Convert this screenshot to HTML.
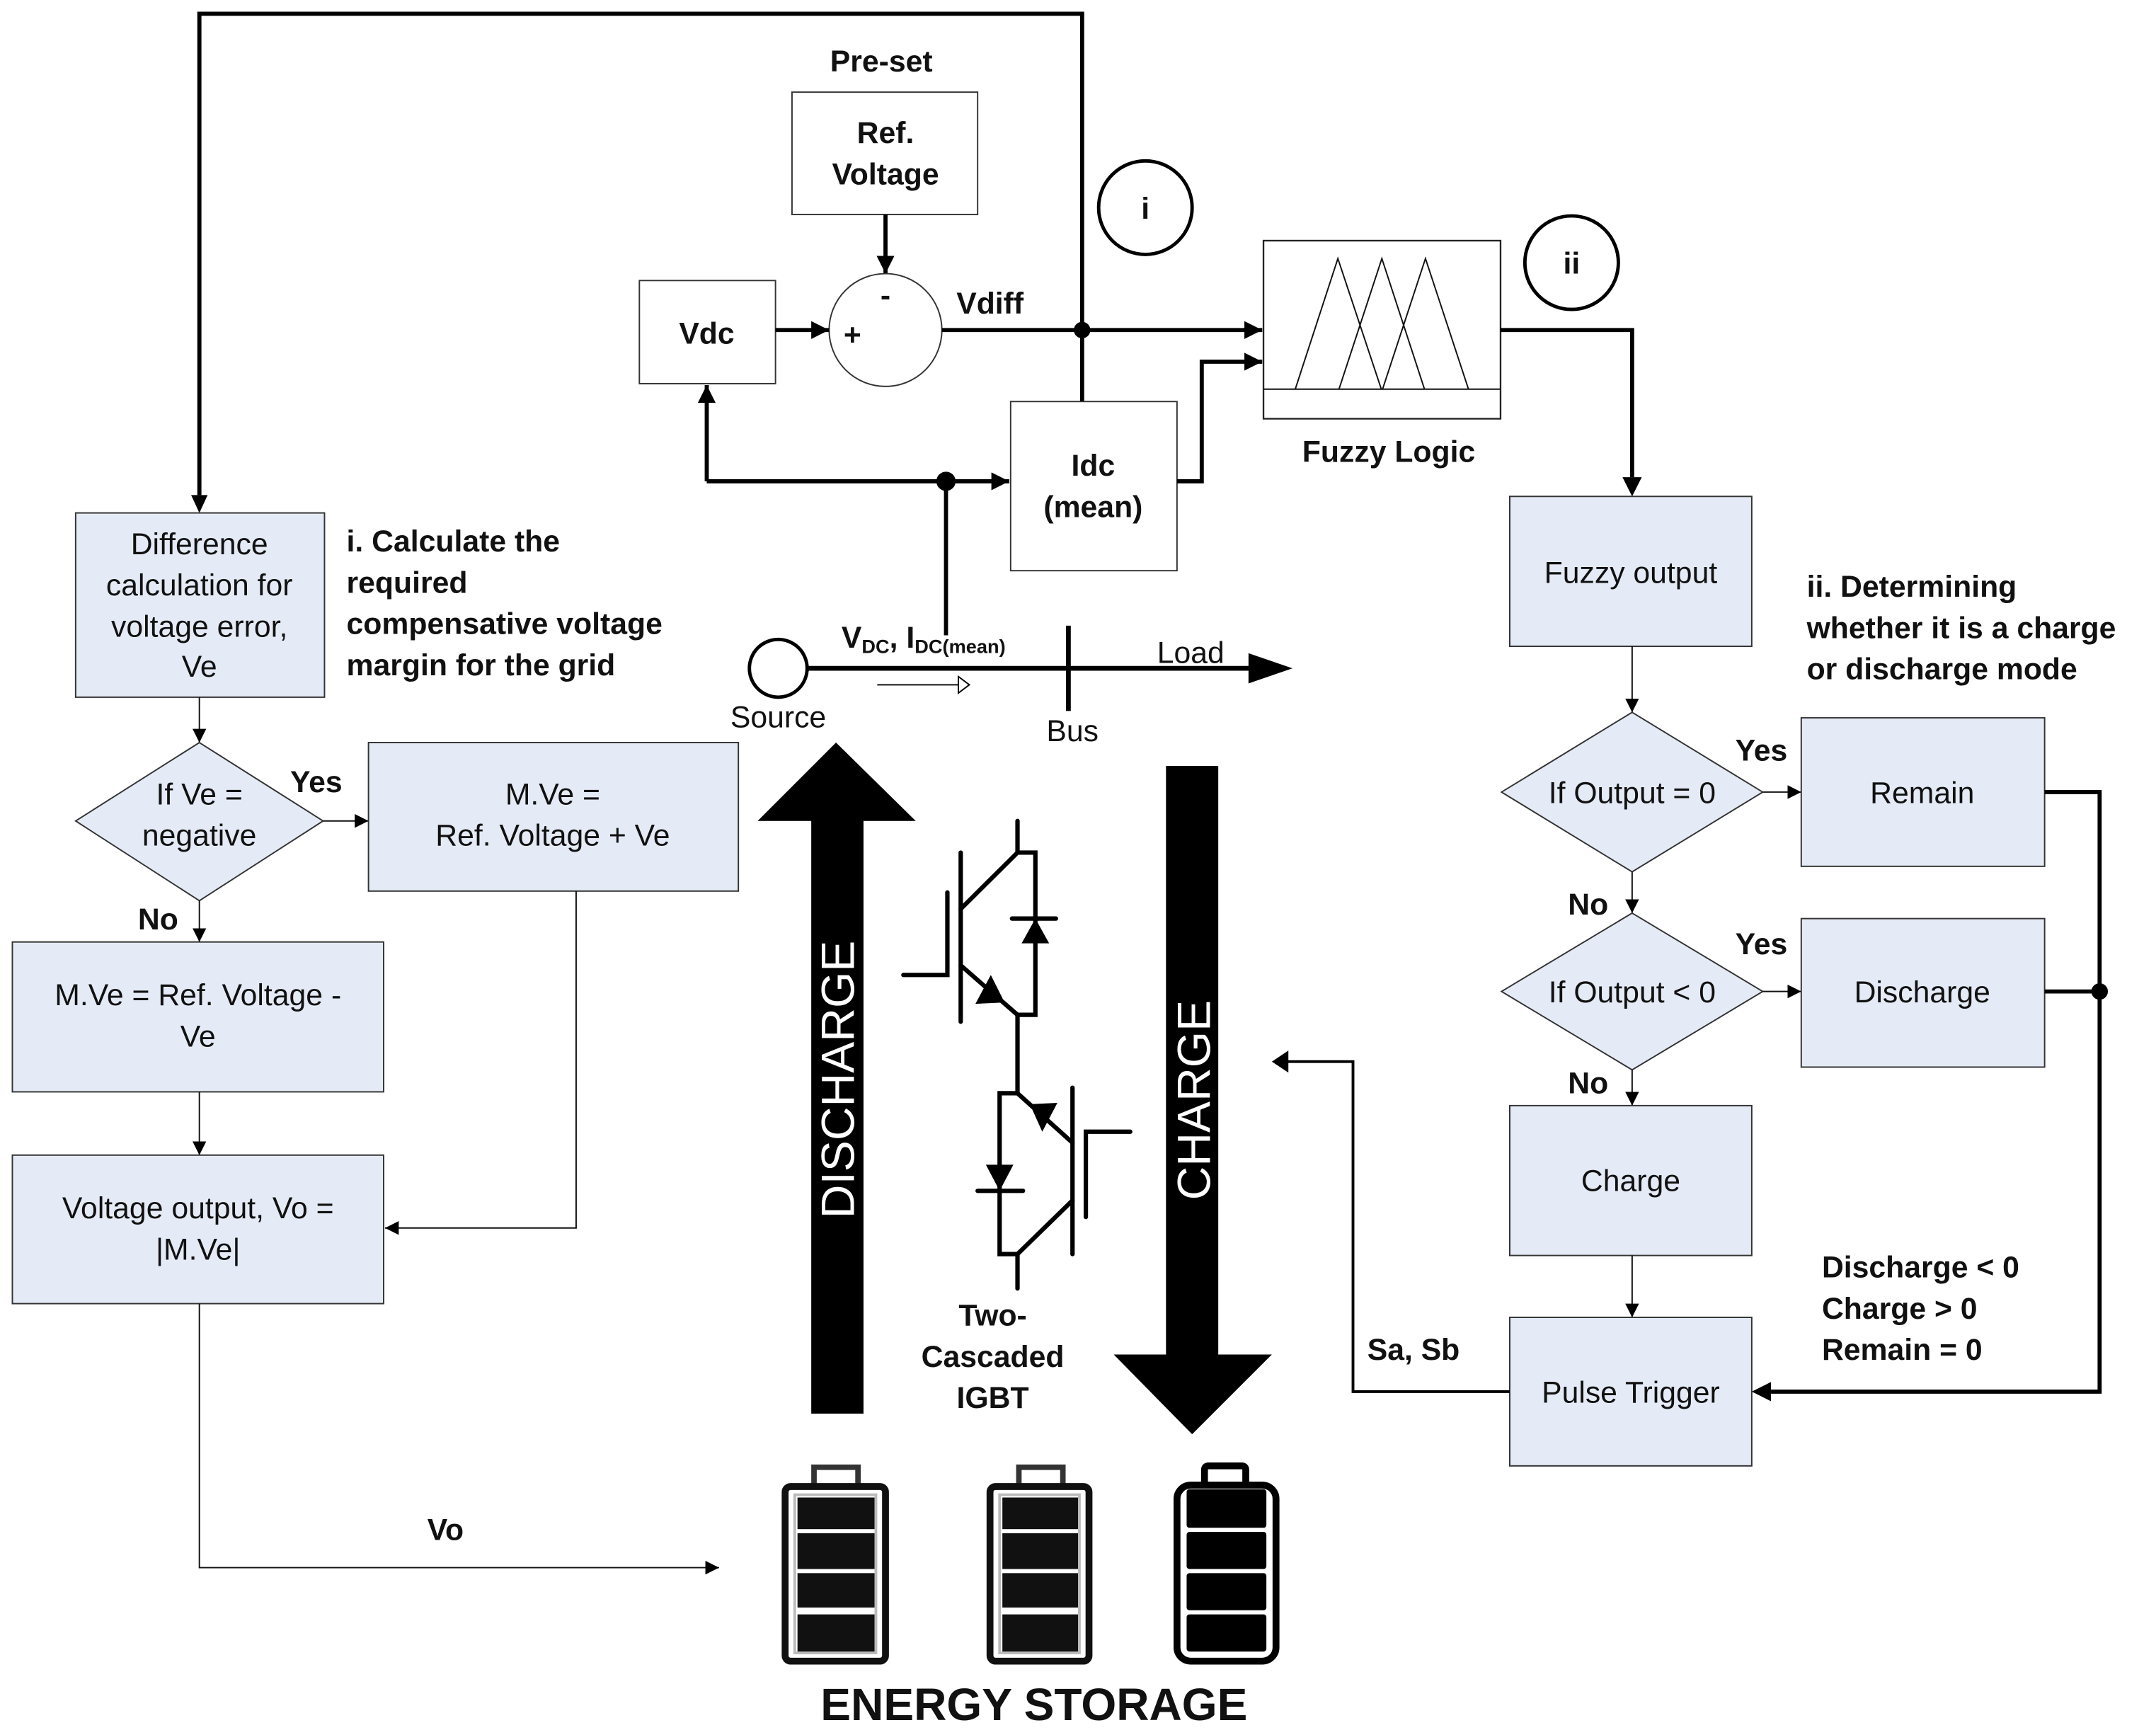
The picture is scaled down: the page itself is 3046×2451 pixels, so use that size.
<!DOCTYPE html>
<html><head><meta charset="utf-8"><style>
html,body{margin:0;padding:0;background:#fff}
svg{display:block}
text{font-family:"Liberation Sans Narrow","Liberation Sans",sans-serif;fill:#111}
.b{font-weight:bold}
.bx{fill:#e5ebf6;stroke:#333;stroke-width:1}
.ln{stroke:#111;stroke-width:1;fill:none}
.tk{stroke:#000;stroke-width:3;fill:none}
.ig{stroke:#000;stroke-width:3.2;fill:none;stroke-linecap:round}
</style></head><body>
<svg width="3046" height="2451" viewBox="0 0 1568 1261.7" xmlns="http://www.w3.org/2000/svg">
<defs>
<marker id="a" viewBox="0 0 10 10" refX="10" refY="5" markerWidth="10" markerHeight="10" markerUnits="userSpaceOnUse" orient="auto"><path d="M0,0L10,5L0,10z" fill="#000"/></marker>
<marker id="A" viewBox="0 0 10 10" refX="10" refY="5" markerWidth="13" markerHeight="13" markerUnits="userSpaceOnUse" orient="auto"><path d="M0,0L10,5L0,10z" fill="#000"/></marker>
</defs>

<polyline class="tk" points="787,240 787,10 145,10 145,360" />
<path d="M139,360L151,360L145,373z" fill="#000"/>

<text x="641" y="52" font-size="22" text-anchor="middle" class="b">Pre-set</text>
<rect x="576" y="67" width="135" height="89" fill="#fff" stroke="#333" stroke-width="1"/>
<text x="644" y="104" font-size="22" text-anchor="middle" class="b">Ref.</text>
<text x="644" y="134" font-size="22" text-anchor="middle" class="b">Voltage</text>
<line x1="644" y1="156" x2="644" y2="199" class="tk" marker-end="url(#A)"/>
<circle cx="644" cy="240" r="41" fill="#fff" stroke="#333" stroke-width="1"/>
<text x="644" y="222" font-size="22" text-anchor="middle" class="b">-</text>
<text x="620" y="251" font-size="22" text-anchor="middle" class="b">+</text>

<rect x="465" y="204" width="99" height="75" fill="#fff" stroke="#333" stroke-width="1"/>
<text x="514" y="250" font-size="22" text-anchor="middle" class="b">Vdc</text>
<line x1="564" y1="240" x2="603" y2="240" class="tk" marker-end="url(#A)"/>
<text x="720" y="228" font-size="22" text-anchor="middle" class="b">Vdiff</text>
<line x1="685" y1="240" x2="918" y2="240" class="tk" marker-end="url(#A)"/>
<circle cx="787" cy="240" r="6" fill="#000"/>
<line x1="787" y1="240" x2="787" y2="292" class="tk"/>

<rect x="735" y="292" width="121" height="123" fill="#fff" stroke="#333" stroke-width="1"/>
<text x="795" y="346" font-size="22" text-anchor="middle" class="b">Idc</text>
<text x="795" y="376" font-size="22" text-anchor="middle" class="b">(mean)</text>

<line x1="514" y1="350" x2="514" y2="280" class="tk" marker-end="url(#A)"/>
<line x1="514" y1="350" x2="734" y2="350" class="tk" marker-end="url(#A)"/>
<circle cx="688" cy="350" r="7" fill="#000"/>
<line x1="688" y1="350" x2="688" y2="462" class="tk"/>
<polyline class="tk" points="856,350 874,350 874,263 918,263" marker-end="url(#A)"/>

<rect x="918.9" y="175" width="172.4" height="129.5" fill="#fff" stroke="#222" stroke-width="1.2"/>
<line x1="918.9" y1="283" x2="1091.3" y2="283" class="ln" stroke-width="1.3"/>
<polyline class="ln" points="942,283 973,188 1004.6,283"/>
<polyline class="ln" points="973.8,283 1005,188 1036,283"/>
<polyline class="ln" points="1005.5,283 1036.7,188 1068,283"/>
<text x="1010" y="336" font-size="22" text-anchor="middle" class="b">Fuzzy Logic</text>
<circle cx="833" cy="151" r="34" fill="#fff" stroke="#000" stroke-width="2.5"/>
<text x="833" y="159" font-size="22" text-anchor="middle" class="b">i</text>
<circle cx="1143" cy="191" r="34" fill="#fff" stroke="#000" stroke-width="2.5"/>
<text x="1143" y="199" font-size="22" text-anchor="middle" class="b">ii</text>
<polyline class="tk" points="1091,240 1187,240 1187,347"/>
<path d="M1180,347L1194,347L1187,361z" fill="#000"/>

<rect x="1098" y="361" width="176" height="109" class="bx"/>
<text x="1186" y="424" font-size="22" text-anchor="middle">Fuzzy output</text>
<line x1="1187" y1="470" x2="1187" y2="518" class="ln" marker-end="url(#a)"/>
<polygon points="1187,518 1282,576 1187,634 1092,576" class="bx"/>
<text x="1187" y="584" font-size="22" text-anchor="middle">If Output = 0</text>
<text x="1281" y="553" font-size="22" text-anchor="middle" class="b">Yes</text>
<line x1="1282" y1="576" x2="1310" y2="576" class="ln" marker-end="url(#a)"/>
<rect x="1310" y="522" width="177" height="108" class="bx"/>
<text x="1398" y="584" font-size="22" text-anchor="middle">Remain</text>
<text x="1155" y="665" font-size="22" text-anchor="middle" class="b">No</text>
<line x1="1187" y1="634" x2="1187" y2="664" class="ln" marker-end="url(#a)"/>
<polygon points="1187,664 1282,721 1187,778 1092,721" class="bx"/>
<text x="1187" y="729" font-size="22" text-anchor="middle">If Output &lt; 0</text>
<text x="1281" y="694" font-size="22" text-anchor="middle" class="b">Yes</text>
<line x1="1282" y1="721" x2="1310" y2="721" class="ln" marker-end="url(#a)"/>
<rect x="1310" y="668" width="177" height="108" class="bx"/>
<text x="1398" y="729" font-size="22" text-anchor="middle">Discharge</text>
<text x="1155" y="795" font-size="22" text-anchor="middle" class="b">No</text>
<line x1="1187" y1="778" x2="1187" y2="804" class="ln" marker-end="url(#a)"/>
<rect x="1098" y="804" width="176" height="109" class="bx"/>
<text x="1186" y="866" font-size="22" text-anchor="middle">Charge</text>
<line x1="1187" y1="913" x2="1187" y2="958" class="ln" marker-end="url(#a)"/>
<rect x="1098" y="958" width="176" height="108" class="bx"/>
<text x="1186" y="1020" font-size="22" text-anchor="middle">Pulse Trigger</text>
<polyline class="tk" points="1487,576 1527,576 1527,1012 1288,1012"/>
<path d="M1288,1005L1288,1019L1274,1012z" fill="#000"/>
<line x1="1487" y1="721" x2="1527" y2="721" class="tk"/>
<circle cx="1527" cy="721" r="6" fill="#000"/>
<text x="1325" y="929" font-size="22" class="b">Discharge &lt; 0</text>
<text x="1325" y="959" font-size="22" class="b">Charge &gt; 0</text>
<text x="1325" y="989" font-size="22" class="b">Remain = 0</text>
<text x="1314" y="434" font-size="22" class="b">ii. Determining</text>
<text x="1314" y="464" font-size="22" class="b">whether it is a charge</text>
<text x="1314" y="494" font-size="22" class="b">or discharge mode</text>
<text x="1028" y="989" font-size="22" text-anchor="middle" class="b">Sa, Sb</text>
<polyline points="1098,1012 984,1012 984,772 936,772" fill="none" stroke="#000" stroke-width="2"/>
<path d="M937,764L937,780L925,772z" fill="#000"/>

<rect x="55" y="373" width="181" height="134" class="bx"/>
<text x="145" y="403" font-size="22" text-anchor="middle">Difference</text>
<text x="145" y="433" font-size="22" text-anchor="middle">calculation for</text>
<text x="145" y="463" font-size="22" text-anchor="middle">voltage error,</text>
<text x="145" y="492" font-size="22" text-anchor="middle">Ve</text>
<text x="252" y="401" font-size="22" class="b">i. Calculate the</text>
<text x="252" y="431" font-size="22" class="b">required</text>
<text x="252" y="461" font-size="22" class="b">compensative voltage</text>
<text x="252" y="491" font-size="22" class="b">margin for the grid</text>
<line x1="145" y1="507" x2="145" y2="540" class="ln" marker-end="url(#a)"/>
<polygon points="145,540 235,597 145,655 55,597" class="bx"/>
<text x="145" y="585" font-size="22" text-anchor="middle">If Ve =</text>
<text x="145" y="615" font-size="22" text-anchor="middle">negative</text>
<text x="230" y="576" font-size="22" text-anchor="middle" class="b">Yes</text>
<line x1="235" y1="597" x2="268" y2="597" class="ln" marker-end="url(#a)"/>
<rect x="268" y="540" width="269" height="108" class="bx"/>
<text x="402" y="585" font-size="22" text-anchor="middle">M.Ve =</text>
<text x="402" y="615" font-size="22" text-anchor="middle">Ref. Voltage + Ve</text>
<text x="115" y="676" font-size="22" text-anchor="middle" class="b">No</text>
<line x1="145" y1="655" x2="145" y2="685" class="ln" marker-end="url(#a)"/>
<rect x="9" y="685" width="270" height="109" class="bx"/>
<text x="144" y="731" font-size="22" text-anchor="middle">M.Ve =  Ref. Voltage -</text>
<text x="144" y="761" font-size="22" text-anchor="middle">Ve</text>
<line x1="145" y1="794" x2="145" y2="840" class="ln" marker-end="url(#a)"/>
<rect x="9" y="840" width="270" height="108" class="bx"/>
<text x="144" y="886" font-size="22" text-anchor="middle">Voltage output, Vo =</text>
<text x="144" y="916" font-size="22" text-anchor="middle">|M.Ve|</text>
<polyline class="ln" points="419,648 419,893 280,893" marker-end="url(#a)"/>
<polyline class="ln" points="145,948 145,1140 523,1140" marker-end="url(#a)"/>
<text x="324" y="1120" font-size="22" text-anchor="middle" class="b">Vo</text>

<circle cx="566" cy="486" r="21" fill="#fff" stroke="#000" stroke-width="2.5"/>
<text x="566" y="529" font-size="22" text-anchor="middle">Source</text>
<line x1="587" y1="486" x2="912" y2="486" stroke="#000" stroke-width="3.5"/>
<path d="M908,475L940,486L908,497z" fill="#000"/>
<line x1="777" y1="455" x2="777" y2="517" stroke="#000" stroke-width="3.5"/>
<text x="780" y="539" font-size="22" text-anchor="middle">Bus</text>
<text x="866" y="482" font-size="22" text-anchor="middle">Load</text>
<text x="612" y="471" font-size="22" class="b">V<tspan font-size="14" dy="4">DC</tspan><tspan dy="-4">, I</tspan><tspan font-size="14" dy="4">DC(mean)</tspan></text>
<line x1="638" y1="498" x2="697" y2="498" stroke="#000" stroke-width="1"/>
<path d="M697,492L705,498L697,504z" fill="#fff" stroke="#000" stroke-width="1"/>

<path d="M590,1028L628,1028L628,597L666,597L608,540L551,597L590,597z" fill="#000"/>
<text transform="translate(621,785) rotate(-90)" font-size="34" text-anchor="middle" style="fill:#fff">DISCHARGE</text>
<path d="M848,557L886,557L886,985L925,985L867,1043L810,985L848,985z" fill="#000"/>
<text transform="translate(880,800) rotate(-90)" font-size="34" text-anchor="middle" style="fill:#fff">CHARGE</text>

<!-- IGBT -->
<g class="ig">
<polyline points="740,597 740,620 753,620 753,738 740,738"/>
<line x1="736" y1="668" x2="768" y2="668"/>
<line x1="698.7" y1="620" x2="698.7" y2="743"/>
<polyline points="657,709 689,709 689,649"/>
<line x1="698.7" y1="661" x2="740" y2="620"/>
<line x1="698.7" y1="702" x2="740" y2="738"/>
<line x1="740" y1="738" x2="740" y2="795"/>
<polyline points="740,795 727,795 727,912 740,912 740,937"/>
<line x1="711" y1="866" x2="744" y2="866"/>
<line x1="780" y1="791" x2="780" y2="912"/>
<polyline points="822,823 789.7,823 789.7,885"/>
<line x1="740" y1="795" x2="780" y2="831"/>
<line x1="780" y1="873" x2="740" y2="912"/>
</g>
<path d="M753,668L743,686L763,686z" fill="#000"/>
<path d="M727,866L717,847L737,847z" fill="#000"/>
<path d="M720.6,709L709.4,730L730.6,729z" fill="#000"/>
<path d="M769,802L749,803L758,823z" fill="#000"/>
<text x="722" y="964" font-size="22" text-anchor="middle" class="b">Two-</text>
<text x="722" y="994" font-size="22" text-anchor="middle" class="b">Cascaded</text>
<text x="722" y="1024" font-size="22" text-anchor="middle" class="b">IGBT</text>

<!-- batteries -->
<g>
<path d="M592,1083L592,1067L624,1067L624,1083" fill="#fff" stroke="#333" stroke-width="4"/>
<rect x="571" y="1081" width="73" height="127" rx="4" fill="#fff" stroke="#111" stroke-width="5"/>
<rect x="578" y="1087" width="59" height="115" fill="none" stroke="#bbb" stroke-width="2"/>
<rect x="580" y="1089" width="56" height="23" fill="#111"/>
<rect x="580" y="1115" width="56" height="26" fill="#111"/>
<rect x="580" y="1144" width="56" height="25" fill="#111"/>
<rect x="580" y="1174" width="56" height="27" fill="#111"/>
</g>
<g>
<path d="M741,1083L741,1067L773,1067L773,1083" fill="#fff" stroke="#333" stroke-width="4"/>
<rect x="720" y="1081" width="72" height="127" rx="4" fill="#fff" stroke="#111" stroke-width="5"/>
<rect x="727" y="1087" width="58" height="115" fill="none" stroke="#bbb" stroke-width="2"/>
<rect x="729" y="1089" width="55" height="23" fill="#111"/>
<rect x="729" y="1115" width="55" height="26" fill="#111"/>
<rect x="729" y="1144" width="55" height="25" fill="#111"/>
<rect x="729" y="1174" width="55" height="27" fill="#111"/>
</g>
<g>
<path d="M876,1082L876,1069Q876,1066 879,1066L903,1066Q906,1066 906,1069L906,1082" fill="none" stroke="#000" stroke-width="5"/>
<rect x="856" y="1080" width="72" height="128" rx="10" fill="#fff" stroke="#000" stroke-width="5"/>
<rect x="863" y="1083" width="58" height="28" rx="2" fill="#000"/>
<rect x="863" y="1114" width="58" height="27" rx="2" fill="#000"/>
<rect x="863" y="1144" width="58" height="27" rx="2" fill="#000"/>
<rect x="863" y="1174" width="58" height="27" rx="2" fill="#000"/>
</g>
<text x="752" y="1251" font-size="33" text-anchor="middle" class="b">ENERGY STORAGE</text>
</svg>
</body></html>
